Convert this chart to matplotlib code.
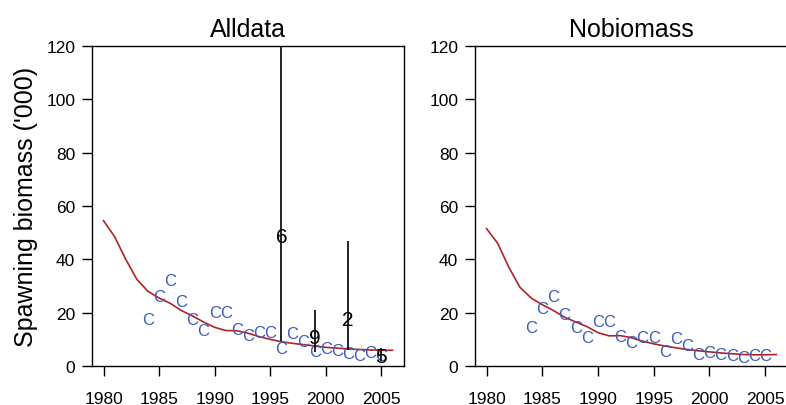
import numpy as np
import matplotlib
matplotlib.use("Agg")
import matplotlib.pyplot as plt

plt.rcParams['font.family'] = ['Liberation Sans', 'DejaVu Sans']

years = np.arange(1980, 2007)
cpue_years = np.arange(1984, 2006)

# Alldata run
alldata_fit = [54.5, 48.5, 40.0, 32.5, 28.0, 25.5, 23.5, 20.8, 18.8, 16.5, 14.5, 13.3, 13.2,
               12.3, 11.0, 10.0, 9.1, 8.5, 8.0, 7.5, 7.0, 6.7, 6.4, 6.2, 6.0, 5.9, 5.9]
alldata_cpue = [17.6, 26.1, 32.1, 24.0, 17.4, 13.2, 20.2, 20.2, 13.6, 11.5, 12.6, 12.6,
                6.5, 12.0, 9.2, 5.5, 6.4, 5.9, 4.6, 4.0, 4.9, 3.8]
survey_years = [1996, 1999, 2002, 2005]
survey_labels = ['6', '9', '2', '5']
survey_est = [48.6, 10.5, 17.4, 3.6]
survey_lo = [9.2, 5.2, 6.1, 1.9]
survey_hi = [260.0, 21.1, 47.0, 6.7]

# Nobiomass run
nobio_fit = [51.5, 46.0, 37.0, 29.5, 25.5, 23.0, 20.8, 18.3, 16.5, 14.8, 12.5, 11.3, 11.4,
             10.6, 9.3, 8.3, 7.5, 6.8, 6.2, 5.7, 5.3, 4.9, 4.6, 4.3, 4.2, 4.2, 4.3]
nobio_cpue = [14.5, 21.5, 26.1, 19.2, 14.25, 10.5, 16.5, 16.5, 10.9, 8.9, 10.5, 10.5,
              5.25, 10.2, 7.75, 4.25, 4.9, 4.25, 4.0, 3.0, 3.9, 3.9]

blue = '#3a5bbf'
red = '#b22222'

fig = plt.figure(figsize=(7.86, 4.06), dpi=100)
ax1 = fig.add_axes([0.117, 0.0961, 0.397, 0.788])
ax2 = fig.add_axes([0.6043, 0.0961, 0.398, 0.788])


def style(ax, title):
    ax.set_xlim(1978.96, 2007.04)
    ax.set_ylim(0, 120)
    ax.set_xticks(np.arange(1980, 2006, 5))
    ax.set_yticks(np.arange(0, 121, 20))
    ax.tick_params(length=7, width=1, labelsize=12.5, pad=5)
    ax.tick_params(axis='x', pad=11)
    for s in ax.spines.values():
        s.set_linewidth(1)
    ax.set_title(title, fontsize=18, pad=7)


for ax, fit, cpue, title in [(ax1, alldata_fit, alldata_cpue, 'Alldata'),
                             (ax2, nobio_fit, nobio_cpue, 'Nobiomass')]:
    ax.plot(years, fit, color=red, lw=1.2, zorder=3)
    for x, y in zip(cpue_years, cpue):
        ax.text(x, y, 'C', color=blue, fontsize=12, ha='center', va='center', zorder=4)
    style(ax, title)

for x, lab, e, lo, hi in zip(survey_years, survey_labels, survey_est, survey_lo, survey_hi):
    ax1.vlines(x, lo, hi, color='black', lw=1.2, zorder=5)
    ax1.text(x, e, lab, fontsize=15, ha='center', va='center', zorder=6)

ax1.set_ylabel("Spawning biomass ('000)", fontsize=18, labelpad=6)

fig.savefig('out.png', dpi=100)
